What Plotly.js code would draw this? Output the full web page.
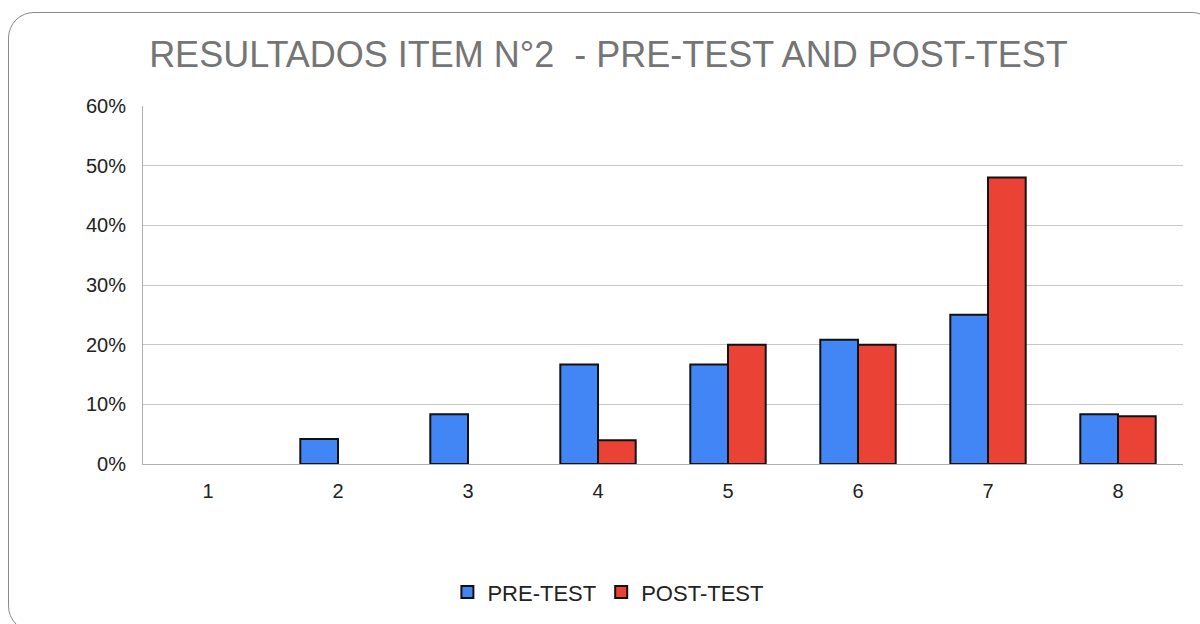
<!DOCTYPE html>
<html>
<head>
<meta charset="utf-8">
<script src="https://cdn.plot.ly/plotly-3.0.1.min.js"></script>
<style>
html,body{margin:0;padding:0;background:#fff;width:1200px;height:624px;overflow:hidden;}
#frame{position:absolute;left:8px;top:12px;width:1210px;height:620px;border:1.5px solid #8a8a8a;border-radius:26px;box-sizing:border-box;}
#chart{position:absolute;left:0;top:0;width:1200px;height:624px;}
</style>
</head>
<body>
<div id="frame"></div>
<div id="chart"></div>
<script>
const categories = ["1","2","3","4","5","6","7","8"];
const preTest  = [0, 0.0417, 0.0833, 0.1667, 0.1667, 0.2083, 0.25, 0.0833];
const postTest = [0, 0, 0, 0.04, 0.20, 0.20, 0.48, 0.08];
const seriesNames = ["PRE-TEST", "POST-TEST"];
const yTicks = [0, 0.1, 0.2, 0.3, 0.4, 0.5, 0.6];
const yTickLabels = ["0%","10%","20%","30%","40%","50%","60%"];

// zero-height bars are not drawn in the reference (no outline stub)
function visibleBars(vals){ return vals.map(v => v === 0 ? null : v); }

const traces = [
  {type:"bar", name:seriesNames[0], x:categories, y:visibleBars(preTest),
   marker:{color:"#4285F4", line:{color:"#111", width:2}}, hoverinfo:"none"},
  {type:"bar", name:seriesNames[1], x:categories, y:visibleBars(postTest),
   marker:{color:"#EA4335", line:{color:"#111", width:2}}, hoverinfo:"none"}
];

const layout = {
  width:1200, height:624,
  paper_bgcolor:"rgba(0,0,0,0)", plot_bgcolor:"rgba(0,0,0,0)",
  margin:{l:143, r:17, t:106, b:160},
  font:{family:"Liberation Sans, Arial, sans-serif", color:"#222"},
  title:{text:"RESULTADOS ITEM N°2&nbsp;&nbsp;- PRE-TEST AND POST-TEST", xref:"container", x:0.507, xanchor:"center",
         yref:"container", y:0.913, yanchor:"middle", font:{size:36, color:"#757575"}},
  barmode:"group", bargap:0.42, bargroupgap:0,
  xaxis:{type:"category", showgrid:false, zeroline:false, showline:true, linecolor:"#b0b0b0", linewidth:1,
         ticks:"outside", ticklen:9, tickcolor:"rgba(0,0,0,0)", tickfont:{size:20, color:"#222"}},
  yaxis:{range:[0,0.6], tickvals:yTicks, ticktext:yTickLabels, showgrid:true, gridcolor:"#c8c8c8", gridwidth:1,
         zeroline:false, showline:true, linecolor:"#b0b0b0", linewidth:1,
         ticks:"outside", ticklen:12, tickcolor:"rgba(0,0,0,0)", tickfont:{size:20, color:"#222"}},
  showlegend:true,
  legend:{orientation:"h", xref:"container", x:0.507, xanchor:"center", yref:"container", y:0.051, yanchor:"middle",
          font:{size:22, color:"#222"}, itemwidth:30, traceorder:"normal"}
};

Plotly.newPlot("chart", traces, layout, {displayModeBar:false, staticPlot:true});
</script>
</body>
</html>
